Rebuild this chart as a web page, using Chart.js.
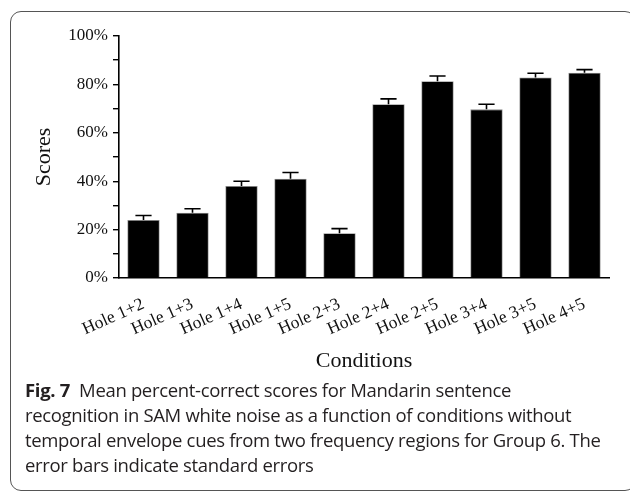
<!DOCTYPE html>
<html>
<head>
<meta charset="utf-8">
<script src="https://cdn.jsdelivr.net/npm/chart.js@4.4.1/dist/chart.umd.min.js"></script>
<style>
  html, body { margin: 0; padding: 0; background: #fff; }
  body { width: 630px; height: 492px; position: relative; overflow: hidden; }
  #frame {
    position: absolute; left: 10px; top: 11px; width: 626px; height: 480px;
    border: 1.3px solid #555; border-radius: 11px; box-sizing: border-box;
  }
  #wrap { position: absolute; left: 0; top: 0; width: 630px; height: 380px; }
  #caption {
    position: absolute; left: 25px; top: 377px; width: 600px;
    font-family: "Open Sans", "Noto Sans", sans-serif; font-size: 18.5px;
    line-height: 25px; color: #231f20; letter-spacing: -0.33px; white-space: nowrap;
  }
  #caption b { font-weight: 700; letter-spacing: -0.3px; }
</style>
</head>
<body>
<div id="frame"></div>
<div id="wrap"><canvas id="chart" width="630" height="380"></canvas></div>
<div id="caption"><b>Fig. 7</b>&nbsp; Mean percent-correct scores for Mandarin sentence<br>recognition in SAM white noise as a function of conditions without<br>temporal envelope cues from two frequency regions for Group 6. The<br>error bars indicate standard errors</div>
<script>
// Listening conditions: pairs of frequency regions presented together
const conditions = ['Hole 1+2', 'Hole 1+3', 'Hole 1+4', 'Hole 1+5', 'Hole 2+3',
                    'Hole 2+4', 'Hole 2+5', 'Hole 3+4', 'Hole 3+5', 'Hole 4+5'];
// Mean percent-correct scores
const meanScores = [24.0, 27.0, 38.0, 41.0, 18.5, 71.8, 81.3, 69.7, 82.9, 84.8];
// Standard errors (drawn upward from each bar)
const stdErrors = [1.8, 1.6, 2.0, 2.6, 1.9, 2.2, 2.2, 2.1, 1.7, 1.3];
// Y-axis tick values that carry a label
const labelledTicks = [0, 20, 40, 60, 80, 100];

const serif = '"Liberation Serif", "DejaVu Serif", serif';

// Upward error bars with a horizontal cap, placed through the chart's scales
const errorBarPlugin = {
  id: 'errorBars',
  afterDatasetsDraw(chart) {
    const ctx = chart.ctx;
    const meta = chart.getDatasetMeta(0);
    const y = chart.scales.y;
    ctx.save();
    ctx.strokeStyle = '#000';
    ctx.lineWidth = 1.6;
    meta.data.forEach((bar, i) => {
      const x = bar.x;
      const yTop = y.getPixelForValue(meanScores[i] + stdErrors[i]);
      const yMean = y.getPixelForValue(meanScores[i]);
      const half = bar.width * 0.25;
      ctx.beginPath();
      ctx.moveTo(x, yMean);
      ctx.lineTo(x, yTop);
      ctx.moveTo(x - half, yTop);
      ctx.lineTo(x + half, yTop);
      ctx.stroke();
    });
    ctx.restore();
  }
};

new Chart(document.getElementById('chart'), {
  type: 'bar',
  data: {
    labels: conditions,
    datasets: [{
      data: meanScores,
      backgroundColor: '#000',
      borderColor: '#8a8a8a',
      borderWidth: 0.8,
      barPercentage: 0.66,
      categoryPercentage: 1.0
    }]
  },
  options: {
    responsive: false,
    animation: false,
    events: [],
    layout: { padding: { left: 0, right: 21, top: 36, bottom: 0 } },
    plugins: { legend: { display: false }, tooltip: { enabled: false } },
    scales: {
      x: {
        grid: { display: false },
        border: { display: true, color: '#000', width: 1.6 },
        ticks: {
          color: '#111', font: { family: serif, size: 17.5 },
          minRotation: 24, maxRotation: 24, padding: 8, autoSkip: false
        },
        title: {
          display: true, text: 'Conditions', color: '#111',
          font: { family: serif, size: 22 }, padding: { top: 0, bottom: 6 }
        },
        afterFit(scale) { scale.height = 102; }
      },
      y: {
        min: 0, max: 100,
        grid: { display: true, drawOnChartArea: false, drawTicks: true, tickLength: 6, color: '#000', lineWidth: 1.4 },
        border: { display: true, color: '#000', width: 1.6 },
        ticks: {
          stepSize: 10, padding: 5, color: '#111',
          font: { family: serif, size: 17 },
          callback: (v) => labelledTicks.includes(v) ? v + '%' : ''
        },
        title: {
          display: true, text: 'Scores', color: '#111',
          font: { family: serif, size: 22 }, padding: { top: 31, bottom: 0 }
        },
        afterFit(scale) { scale.width = 119; }
      }
    }
  },
  plugins: [errorBarPlugin]
});
</script>
</body>
</html>
